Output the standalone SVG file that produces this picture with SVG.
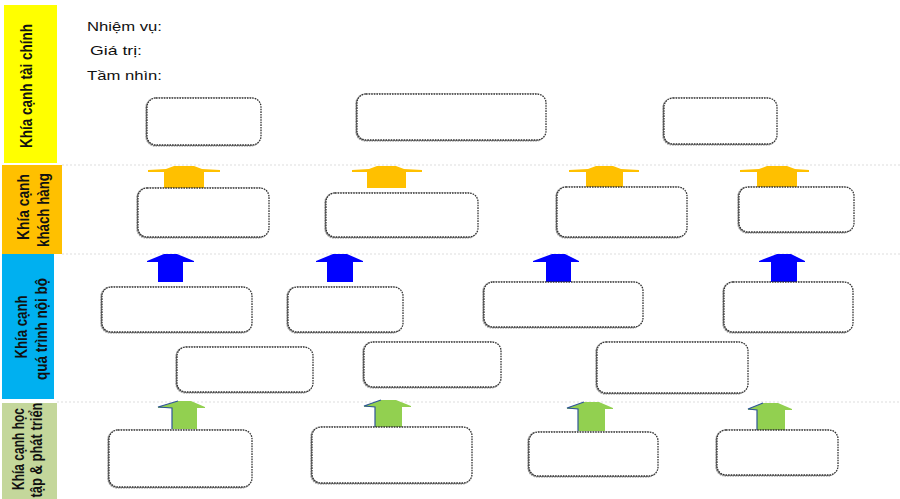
<svg xmlns="http://www.w3.org/2000/svg" width="900" height="499" viewBox="0 0 900 499">
<defs>
<style>
.band-text{font-family:"Liberation Sans","DejaVu Sans",sans-serif;font-weight:bold;font-size:17px;fill:#111;text-anchor:middle}
.hdr{font-family:"Liberation Sans","DejaVu Sans",sans-serif;font-size:13.5px;fill:#111}
.box{fill:#fff;stroke:#333;stroke-width:1.3;stroke-dasharray:1.6 1;filter:url(#sh)}
.sep{stroke:#ddd;stroke-width:1;stroke-dasharray:2 2}
.orange{fill:#FFC000}
.blue{fill:#0000FF}
.green{fill:#92D050}
.gedge{fill:none;stroke:#2F5597;stroke-width:1.2}
</style>
<filter id="sh" x="-5%" y="-10%" width="110%" height="120%">
<feDropShadow dx="-1" dy="0.6" stdDeviation="0.4" flood-color="#000" flood-opacity="0.55"/>
</filter>
</defs>
<rect width="900" height="499" fill="#fff"/>
<g id="separators">
<line class="sep" x1="62" y1="165" x2="900" y2="165"/>
<line class="sep" x1="62" y1="254" x2="900" y2="254"/>
<line class="sep" x1="57" y1="402" x2="900" y2="402"/>
</g>
<g id="band-finance">
<rect x="4" y="5" width="53" height="158" fill="#FFFF00"/>
<text class="band-text" transform="translate(32,86) rotate(-90)" textLength="124" lengthAdjust="spacingAndGlyphs">Khía cạnh tài chính</text>
</g>
<g id="band-customer">
<rect x="2" y="165" width="60" height="89" fill="#FFC000"/>
<text class="band-text" transform="translate(29,207) rotate(-90)" textLength="66" lengthAdjust="spacingAndGlyphs">Khía cạnh</text>
<text class="band-text" transform="translate(49,210) rotate(-90)" textLength="74" lengthAdjust="spacingAndGlyphs">khách hàng</text>
</g>
<g id="band-internal">
<rect x="2" y="254" width="52" height="145" fill="#00B0F0"/>
<text class="band-text" transform="translate(27,327) rotate(-90)" textLength="63" lengthAdjust="spacingAndGlyphs">Khía cạnh</text>
<text class="band-text" transform="translate(47,329) rotate(-90)" textLength="102" lengthAdjust="spacingAndGlyphs">quá trình nội bộ</text>
</g>
<g id="band-learning">
<rect x="2" y="403" width="55" height="96" fill="#C4D79B"/>
<text class="band-text" transform="translate(24,449) rotate(-90)" textLength="82" lengthAdjust="spacingAndGlyphs">Khía cạnh học</text>
<text class="band-text" transform="translate(42,450) rotate(-90)" textLength="95" lengthAdjust="spacingAndGlyphs">tập &amp; phát triển</text>
</g>
<g id="header">
<text class="hdr" x="87" y="31" textLength="75" lengthAdjust="spacingAndGlyphs">Nhiệm vụ:</text>
<text class="hdr" x="90" y="55" textLength="52" lengthAdjust="spacingAndGlyphs">Giá trị:</text>
<text class="hdr" x="87" y="80" textLength="75" lengthAdjust="spacingAndGlyphs">Tầm nhìn:</text>
</g>
<g id="connectors">
<path class="orange" d="M164 188V172H148V170L166 169L174 166H194L202 169L220 170V172H204V188Z"/>
<path class="orange" d="M367 188V172H352V170L369 169L377 166H396L404 169L422 170V172H406V188Z"/>
<path class="orange" d="M586 188V172H569V170L588 169L596 166H613L621 169L639 170V172H623V188Z"/>
<path class="orange" d="M757 188V172H740V170L759 169L767 166H787L795 169L809 170V172H797V188Z"/>
<path class="blue" d="M158 282V262H147V261L164 254H177L194 261V262H183V282Z"/>
<path class="blue" d="M327 282V262H316V261L333 254H347L363 261V262H353V282Z"/>
<path class="blue" d="M546 282V262H533V261L552 254H565L579 261V262H571V282Z"/>
<path class="blue" d="M771 282V262H759V261L777 254H791L805 261V262H797V282Z"/>
<path class="green" d="M172 429V408H158V407L178 401H191L205 407V408H197V429Z"/>
<polyline class="gedge" points="172,429 172,408 158,407 178,401"/>
<path class="green" d="M375 427V407H364V406L381 400H396L411 406V407H402V427Z"/>
<polyline class="gedge" points="375,427 375,407 364,406 381,400"/>
<path class="green" d="M578 431V409H567V408L584 402H599L613 408V409H605V431Z"/>
<polyline class="gedge" points="578,431 578,409 567,408 584,402"/>
<path class="green" d="M757 430V410H748V409L763 403H778L792 409V410H785V430Z"/>
<polyline class="gedge" points="757,430 757,410 748,409 763,403"/>
</g>
<g id="f1"><rect class="box" x="147" y="98" width="114" height="47" rx="9"/></g>
<g id="f2"><rect class="box" x="357" y="94" width="189" height="46" rx="9"/></g>
<g id="f3"><rect class="box" x="664" y="98" width="113" height="46" rx="9"/></g>
<g id="c1"><rect class="box" x="138" y="188" width="131" height="49" rx="9"/></g>
<g id="c2"><rect class="box" x="326" y="193" width="152" height="44" rx="9"/></g>
<g id="c3"><rect class="box" x="557" y="187" width="130" height="50" rx="9"/></g>
<g id="c4"><rect class="box" x="739" y="187" width="115" height="45" rx="9"/></g>
<g id="p1"><rect class="box" x="102" y="287" width="150" height="45" rx="9"/></g>
<g id="p2"><rect class="box" x="288" y="287" width="115" height="45" rx="9"/></g>
<g id="p3"><rect class="box" x="484" y="282" width="159" height="45" rx="9"/></g>
<g id="p4"><rect class="box" x="724" y="282" width="129" height="50" rx="9"/></g>
<g id="p5"><rect class="box" x="177" y="347" width="136" height="45" rx="9"/></g>
<g id="p6"><rect class="box" x="364" y="342" width="137" height="45" rx="9"/></g>
<g id="p7"><rect class="box" x="597" y="342" width="151" height="51" rx="9"/></g>
<g id="l1"><rect class="box" x="109" y="430" width="143" height="57" rx="9"/></g>
<g id="l2"><rect class="box" x="312" y="427" width="160" height="56" rx="9"/></g>
<g id="l3"><rect class="box" x="529" y="432" width="129" height="44" rx="9"/></g>
<g id="l4"><rect class="box" x="717" y="430" width="121" height="45" rx="9"/></g>
</svg>
